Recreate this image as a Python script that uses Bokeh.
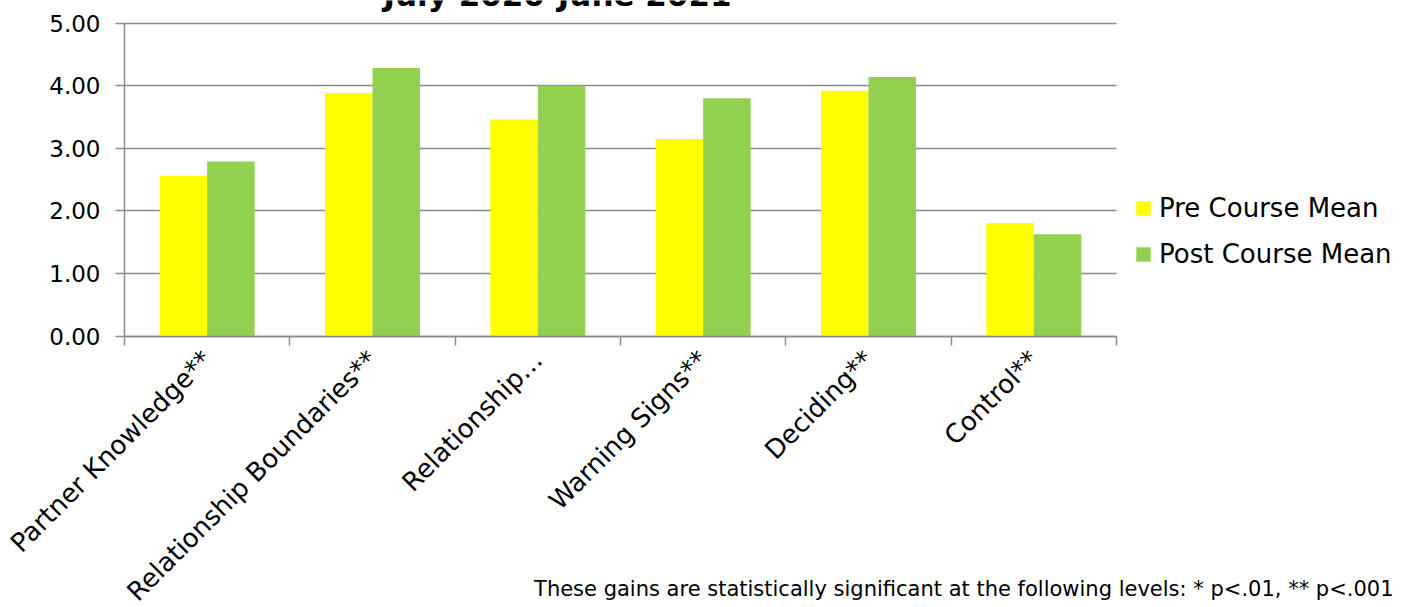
import numpy as np
from bokeh.plotting import figure
from bokeh.models import Range1d, FixedTicker, LinearAxis, Legend, LegendItem, Label, NumeralTickFormatter, Grid
from bokeh.embed import file_html
from bokeh.resources import INLINE

categories = ["Partner Knowledge**", "Relationship Boundaries**", "Relationship\u2026",
              "Warning Signs**", "Deciding**", "Control**"]
pre_mean = [2.56, 3.88, 3.46, 3.15, 3.92, 1.81]
post_mean = [2.79, 4.28, 4.00, 3.80, 4.14, 1.63]
series_names = ["Pre Course Mean", "Post Course Mean"]
y_ticks = [0, 1, 2, 3, 4, 5]
title_text = "July 2020-June 2021"
footnote = "These gains are statistically significant at the following levels: * p<.01, ** p<.001"

FONT = "DejaVu Sans"
NOTE_FONT = "DejaVu Sans"
GRAY = "#8c8c8c"

n = len(categories)
centers = np.arange(n) + 0.5
bw = 0.287

W, H = 1408, 607
# frame covers the whole canvas; axes are pinned inside it
px_x = 992 / n          # pixels per category
px_y = 313.3 / 5        # pixels per unit
x0_px, y0_px = 124, 335.8
x_range = Range1d(-x0_px / px_x, (W - x0_px) / px_x)
y_range = Range1d(-(H - y0_px) / px_y, y0_px / px_y)

p = figure(width=W, height=H, output_backend="svg", toolbar_location=None,
           x_range=x_range, y_range=y_range, min_border=0,
           x_axis_type=None, y_axis_type=None)
p.outline_line_color = None
p.background_fill_color = "white"
p.border_fill_color = "white"

g = Grid(dimension=1, ticker=FixedTicker(ticks=y_ticks), grid_line_color=GRAY,
         grid_line_width=1.5, cross_bounds=(0, n))
p.add_layout(g)

r_pre = p.vbar(x=centers - bw / 2, top=pre_mean, width=bw, fill_color="#FFFF00", line_color=None)
r_post = p.vbar(x=centers + bw / 2, top=post_mean, width=bw, fill_color="#92D050", line_color=None)

# y axis
yax = LinearAxis(ticker=FixedTicker(ticks=y_ticks), formatter=NumeralTickFormatter(format="0.00"),
                 fixed_location=0, bounds=(0, 5))
yax.axis_line_color = GRAY
yax.axis_line_width = 1.5
yax.major_tick_line_color = GRAY
yax.major_tick_line_width = 1.5
yax.major_tick_out = 9
yax.major_tick_in = 0
yax.minor_tick_line_color = None
yax.major_label_standoff = 15
yax.major_label_text_font = FONT
yax.major_label_text_font_size = "23px"
yax.major_label_text_color = "#000000"
p.add_layout(yax, "left")

# x axis: labels at centers, ticks at category boundaries (minor ticks)
xax = LinearAxis(ticker=FixedTicker(ticks=list(centers), minor_ticks=list(range(n + 1))),
                 fixed_location=0, bounds=(0, n))
xax.major_label_overrides = {float(c): lab for c, lab in zip(centers, categories)}
xax.major_label_orientation = np.pi / 4
xax.axis_line_color = GRAY
xax.axis_line_width = 1.5
xax.major_tick_line_color = None
xax.minor_tick_line_color = GRAY
xax.minor_tick_line_width = 1.5
xax.minor_tick_out = 9
xax.minor_tick_in = 0
xax.major_label_standoff = 10
xax.major_label_text_font = FONT
xax.major_label_text_font_size = "26px"
xax.major_label_text_color = "#000000"
p.add_layout(xax, "below")

legend = Legend(items=[LegendItem(label=series_names[0], renderers=[r_pre]),
                       LegendItem(label=series_names[1], renderers=[r_post])],
                location=(1134, 338))
legend.border_line_color = None
legend.background_fill_alpha = 0
legend.padding = 0
legend.margin = 0
legend.spacing = 16
legend.glyph_width = 18
legend.glyph_height = 18
legend.label_standoff = 7
legend.label_text_font = FONT
legend.label_text_font_size = "26px"
legend.label_text_color = "#000000"
p.add_layout(legend, "center")

p.add_layout(Label(x=557, y=H + 6, x_units="screen", y_units="screen", text=title_text,
                   text_font=FONT, text_font_style="bold", text_font_size="31px",
                   text_align="center", text_baseline="alphabetic", text_color="#000000"))
p.add_layout(Label(x=1393, y=H - 588, x_units="screen", y_units="screen", text=footnote,
                   text_font=NOTE_FONT, text_font_size="21px",
                   text_align="right", text_baseline="alphabetic", text_color="#000000"))

open("out.html", "w").write(file_html(p, INLINE))
